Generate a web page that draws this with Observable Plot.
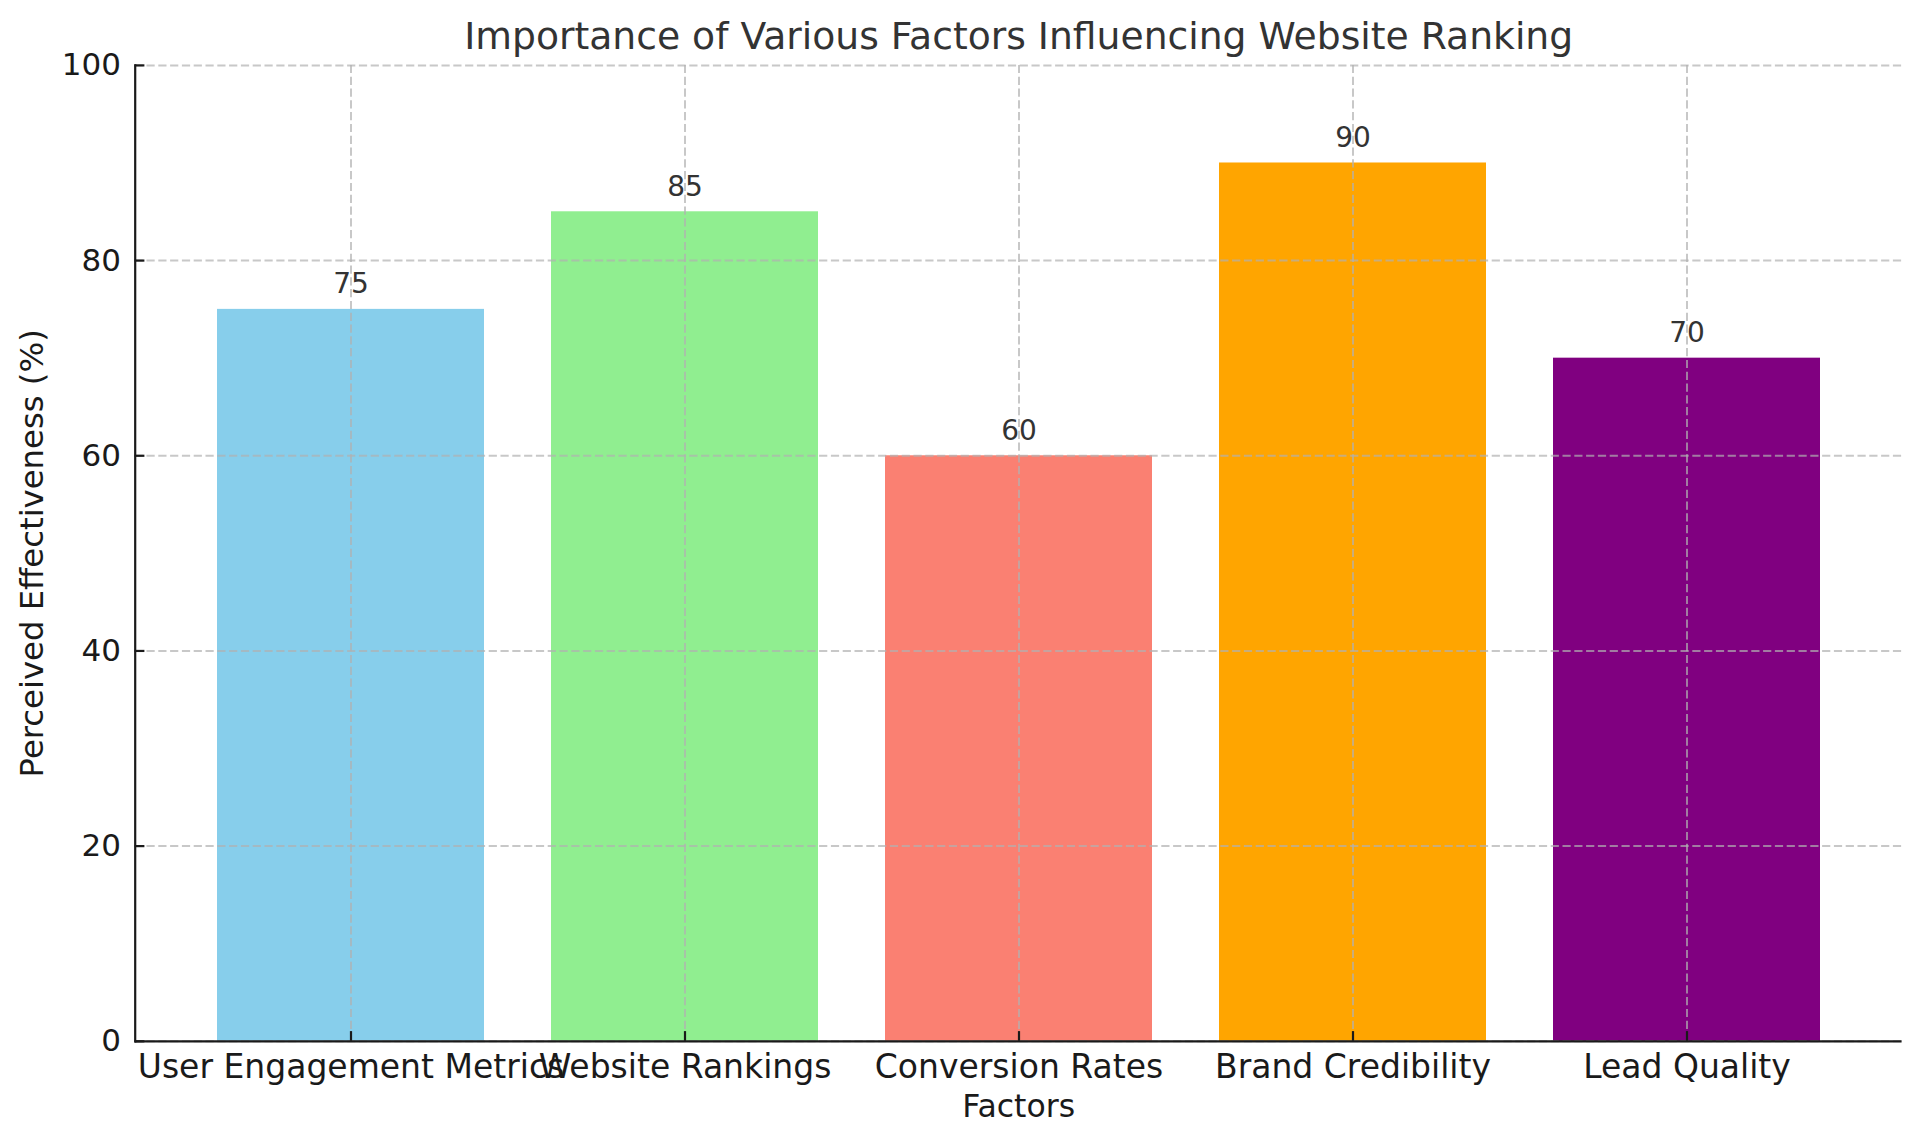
<!DOCTYPE html>
<html><head><meta charset="utf-8">
<script src="https://cdn.jsdelivr.net/npm/d3@7"></script>
<script src="https://cdn.jsdelivr.net/npm/@observablehq/plot@0.6"></script>
<style>html,body{margin:0;padding:0;background:#fff;overflow:hidden}</style>
</head><body><div id="chart"></div>
<script>
const categories = ["User Engagement Metrics","Website Rankings","Conversion Rates","Brand Credibility","Lead Quality"];
const values = [75,85,60,90,70];
const colors = ["#87CEEB","#90EE90","#FA8072","#FFA500","#800080"];
const yTicks = [0,20,40,60,80,100];
const titleText = "Importance of Various Factors Influencing Website Ranking";
const xLabel = "Factors";
const yLabel = "Perceived Effectiveness (%)";

const data = categories.map((c,i)=>({factor:c, value: values[i]}));
const font = "DejaVu Sans";
const W=1920,H=1145, mL=134.7, mR=18.4, mT=64.9, mB=104.2;
const ink = "#1a1a1a";
const grid = {stroke:"#b0b0b0", strokeOpacity:0.7, strokeWidth:2, strokeDasharray:"8.2,3.6"};

const plot = Plot.plot({
  width:W, height:H, marginLeft:mL, marginRight:mR, marginTop:mT, marginBottom:mB,
  style:{fontFamily:font, background:"#fff", overflow:"visible"},
  x:{type:"band", domain:categories, paddingInner:0.2, paddingOuter:0.24, align:0.5, label:null},
  y:{type:"linear", domain:[0,100], label:null},
  color:{domain:categories, range:colors},
  marks:[
    Plot.barY(data,{x:"factor", y:"value", fill:"factor"}),
    Plot.gridY(yTicks, grid),
    Plot.gridX(categories, grid),
    Plot.text(data,{x:"factor", y:"value", text: d=>String(d.value), dy:-16, lineAnchor:"bottom", fontSize:28, fill:"#333"}),
    Plot.axisY(yTicks,{tickSize:-9.7, tickPadding:23.9, strokeWidth:2.2, stroke:ink, fontSize:31, fill:ink, label:null, tickFormat:d=>String(d)}),
    Plot.axisX(categories,{tickSize:-9.7, tickPadding:22.5, strokeWidth:2.2, stroke:ink, fontSize:33, fill:ink, label:null}),
    Plot.ruleY([0],{stroke:ink, strokeWidth:2.2}),
    Plot.frame({anchor:"left", stroke:ink, strokeWidth:2.2}),
    Plot.text([titleText],{frameAnchor:"top", dy:-28.4, lineAnchor:"middle", fontSize:37.7, fill:"#333"}),
    Plot.text([xLabel],{frameAnchor:"bottom", dy:66, lineAnchor:"middle", fontSize:31.5, fill:ink}),
    Plot.text([yLabel],{frameAnchor:"left", dx:-102.7, rotate:-90, textAnchor:"middle", lineAnchor:"middle", fontSize:32.3, fill:ink})
  ]
});
document.getElementById("chart").appendChild(plot);
</script>
</body></html>
